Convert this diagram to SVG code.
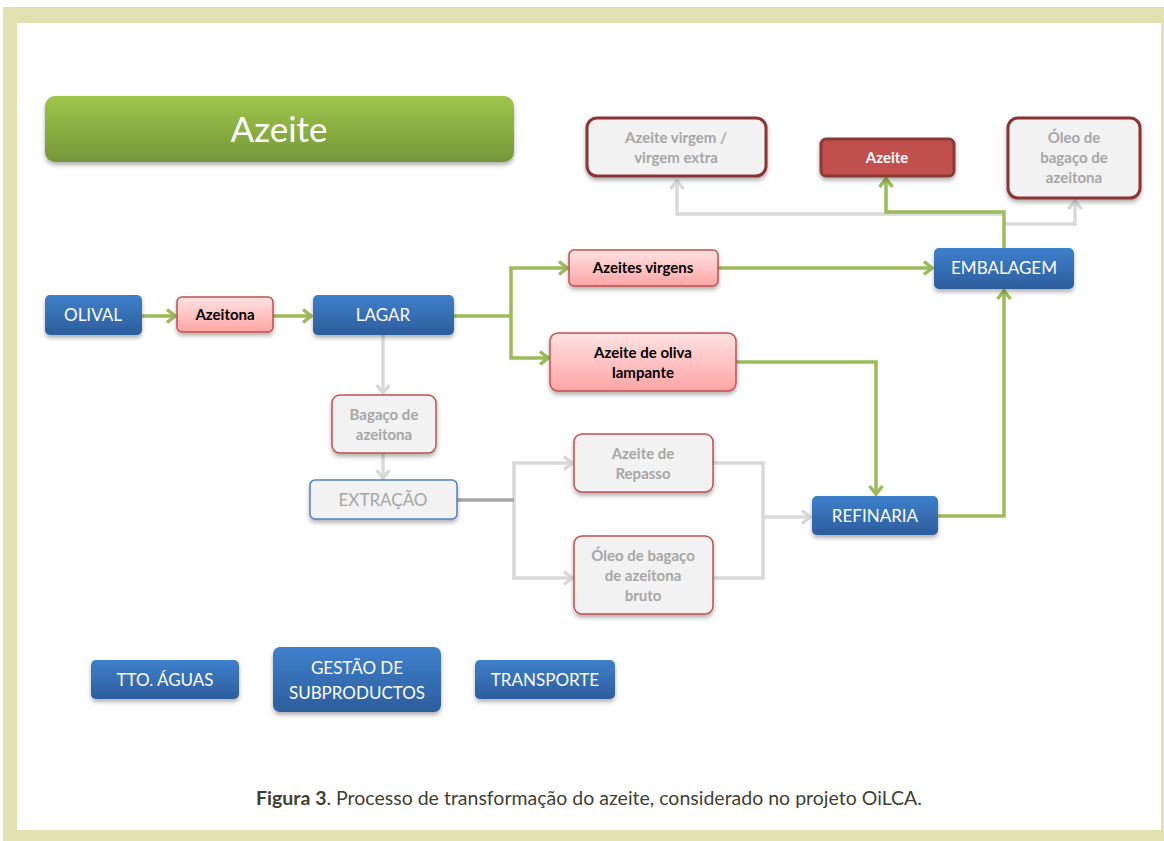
<svg xmlns="http://www.w3.org/2000/svg" width="1164" height="841" viewBox="0 0 1164 841">
<defs>
<linearGradient id="gBlue" x1="0" y1="0" x2="0" y2="1"><stop offset="0" stop-color="#3f80cc"/><stop offset="1" stop-color="#2c5d9c"/></linearGradient>
<linearGradient id="gPink" x1="0" y1="0" x2="0" y2="1"><stop offset="0" stop-color="#ffe2e2"/><stop offset="1" stop-color="#ffa5a5"/></linearGradient>
<linearGradient id="gGreen" x1="0" y1="0" x2="0" y2="1"><stop offset="0" stop-color="#9fc64b"/><stop offset="1" stop-color="#769739"/></linearGradient>
<filter id="sh" x="-10%" y="-20%" width="120%" height="150%"><feDropShadow dx="0" dy="3" stdDeviation="2" flood-color="#000" flood-opacity="0.3"/></filter>
<marker id="aG" viewBox="0 0 12 16" refX="11" refY="8" markerWidth="12" markerHeight="16" markerUnits="userSpaceOnUse" orient="auto"><polyline points="2,1.5 10,8 2,14.5" fill="none" stroke="#9bbb59" stroke-width="3.5" stroke-linejoin="miter"/></marker>
<marker id="aL" viewBox="0 0 12 16" refX="11" refY="8" markerWidth="12" markerHeight="16" markerUnits="userSpaceOnUse" orient="auto"><polyline points="2,1.5 10,8 2,14.5" fill="none" stroke="#d9d9d9" stroke-width="3.5" stroke-linejoin="miter"/></marker>
</defs>
<style>
.blue{fill:url(#gBlue);filter:url(#sh)}
.pink{fill:url(#gPink);stroke:#c0504d;stroke-width:1.5;filter:url(#sh)}
.grey{fill:#f2f2f2;stroke:#c0504d;stroke-width:1.5;filter:url(#sh)}
.dark{fill:#f2f2f2;stroke:#8b3533;stroke-width:3;filter:url(#sh)}
.tw{font-family:Lato,"Liberation Sans",sans-serif;font-size:17px;fill:#fff;text-anchor:middle}
.tb{font-family:Lato,"Liberation Sans",sans-serif;font-size:15px;font-weight:bold;fill:#000;text-anchor:middle}
.tg{font-family:Lato,"Liberation Sans",sans-serif;font-size:15px;font-weight:bold;fill:#a6a6a6;text-anchor:middle}
.g{fill:none;stroke:#9bbb59;stroke-width:3.5}
.l{fill:none;stroke:#d9d9d9;stroke-width:3.5}
</style>
<rect x="3" y="7" width="1161" height="834" fill="#e4e1b1"/>
<rect x="17" y="23" width="1144" height="807" fill="#fff"/>

<g id="connectors">
<path class="l" d="M1004,214 H677 V180" marker-end="url(#aL)"/>
<path class="l" d="M1004,224 H1075 V200" marker-end="url(#aL)"/>
<path class="g" d="M1004,248 V212 H886 V178" marker-end="url(#aG)"/>
<path class="g" d="M142,316 H176" marker-end="url(#aG)"/>
<path class="g" d="M273,316 H312" marker-end="url(#aG)"/>
<path class="g" d="M454,316 H511"/>
<path class="g" d="M511,316 V268 H568" marker-end="url(#aG)"/>
<path class="g" d="M511,316 V358 H549" marker-end="url(#aG)"/>
<path class="g" d="M718,268 H933" marker-end="url(#aG)"/>
<path class="g" d="M736,362 H876 V495" marker-end="url(#aG)"/>
<path class="g" d="M938,516 H1004 V290" marker-end="url(#aG)"/>
<path class="l" d="M383,335 V394" marker-end="url(#aL)"/>
<path class="l" d="M383,453 V479" marker-end="url(#aL)"/>
<path class="l" d="M514,500 V463 H573" marker-end="url(#aL)"/>
<path class="l" d="M514,500 V578 H573" marker-end="url(#aL)"/>
<path fill="none" stroke="#a6a6a6" stroke-width="3.5" d="M457,500 H514"/>
<path class="l" d="M713,463 H763 V578 H713"/>
<path class="l" d="M763,517 H811" marker-end="url(#aL)"/>
</g>

<g id="title"><rect x="45" y="96" width="469" height="66" rx="10" fill="url(#gGreen)" filter="url(#sh)"/><text x="279" y="142" font-family="Lato,'Liberation Sans',sans-serif" font-size="35" fill="#fff" text-anchor="middle">Azeite</text></g>

<g id="n-virgem"><rect class="dark" x="587" y="118" width="179" height="58" rx="10"/><text class="tg" x="676" y="143">Azeite virgem /</text><text class="tg" x="676" y="163">virgem extra</text></g>
<g id="n-azeite"><rect x="821" y="139" width="133" height="37" rx="5" fill="#c0504d" stroke="#8c3836" stroke-width="3" filter="url(#sh)"/><text class="tb" x="887" y="163" style="fill:#fff">Azeite</text></g>
<g id="n-oleo"><rect class="dark" x="1008" y="118" width="132" height="80" rx="10"/><text class="tg" x="1074" y="143">Óleo de</text><text class="tg" x="1074" y="163">bagaço de</text><text class="tg" x="1074" y="183">azeitona</text></g>

<g id="n-olival"><rect class="blue" x="45" y="295" width="97" height="40" rx="5"/><text class="tw" x="93" y="321">OLIVAL</text></g>
<g id="n-azeitona"><rect class="pink" x="177" y="297" width="96" height="35" rx="5"/><text class="tb" x="225" y="320">Azeitona</text></g>
<g id="n-lagar"><rect class="blue" x="313" y="295" width="141" height="40" rx="5"/><text class="tw" x="383" y="321">LAGAR</text></g>
<g id="n-virgens"><rect class="pink" x="569" y="250" width="149" height="36" rx="5"/><text class="tb" x="643" y="273">Azeites virgens</text></g>
<g id="n-lampante"><rect class="pink" x="550" y="333" width="186" height="58" rx="8"/><text class="tb" x="643" y="358">Azeite de oliva</text><text class="tb" x="643" y="378">lampante</text></g>
<g id="n-embalagem"><rect class="blue" x="934" y="248" width="140" height="41" rx="5"/><text class="tw" x="1004" y="274">EMBALAGEM</text></g>

<g id="n-bagaco"><rect class="grey" x="332" y="395" width="104" height="58" rx="8"/><text class="tg" x="384" y="420">Bagaço de</text><text class="tg" x="384" y="440">azeitona</text></g>
<g id="n-extracao"><rect x="310" y="480" width="147" height="39" rx="5" fill="#f2f2f2" stroke="#4f81bd" stroke-width="1.5" filter="url(#sh)"/><text class="tw" x="383" y="506" style="fill:#a6a6a6">EXTRAÇÃO</text></g>
<g id="n-repasso"><rect class="grey" x="574" y="434" width="139" height="58" rx="8"/><text class="tg" x="643" y="459">Azeite de</text><text class="tg" x="643" y="479">Repasso</text></g>
<g id="n-bruto"><rect class="grey" x="574" y="536" width="139" height="78" rx="8"/><text class="tg" x="643" y="561">Óleo de bagaço</text><text class="tg" x="643" y="581">de azeitona</text><text class="tg" x="643" y="601">bruto</text></g>
<g id="n-refinaria"><rect class="blue" x="812" y="496" width="126" height="39" rx="5"/><text class="tw" x="875" y="522">REFINARIA</text></g>

<g id="n-aguas"><rect class="blue" x="91" y="660" width="148" height="39" rx="5"/><text class="tw" x="165" y="686">TTO. ÁGUAS</text></g>
<g id="n-gestao"><rect class="blue" x="273" y="647" width="168" height="65" rx="7"/><text class="tw" x="357" y="674">GESTÃO DE</text><text class="tw" x="357" y="699">SUBPRODUCTOS</text></g>
<g id="n-transporte"><rect class="blue" x="475" y="660" width="140" height="39" rx="5"/><text class="tw" x="545" y="686">TRANSPORTE</text></g>

<text x="589" y="805" font-family="Lato,'Liberation Sans',sans-serif" font-size="19.5" fill="#3f3f33" text-anchor="middle"><tspan font-weight="bold">Figura 3</tspan>. Processo de transformação do azeite, considerado no projeto OiLCA.</text>
</svg>
